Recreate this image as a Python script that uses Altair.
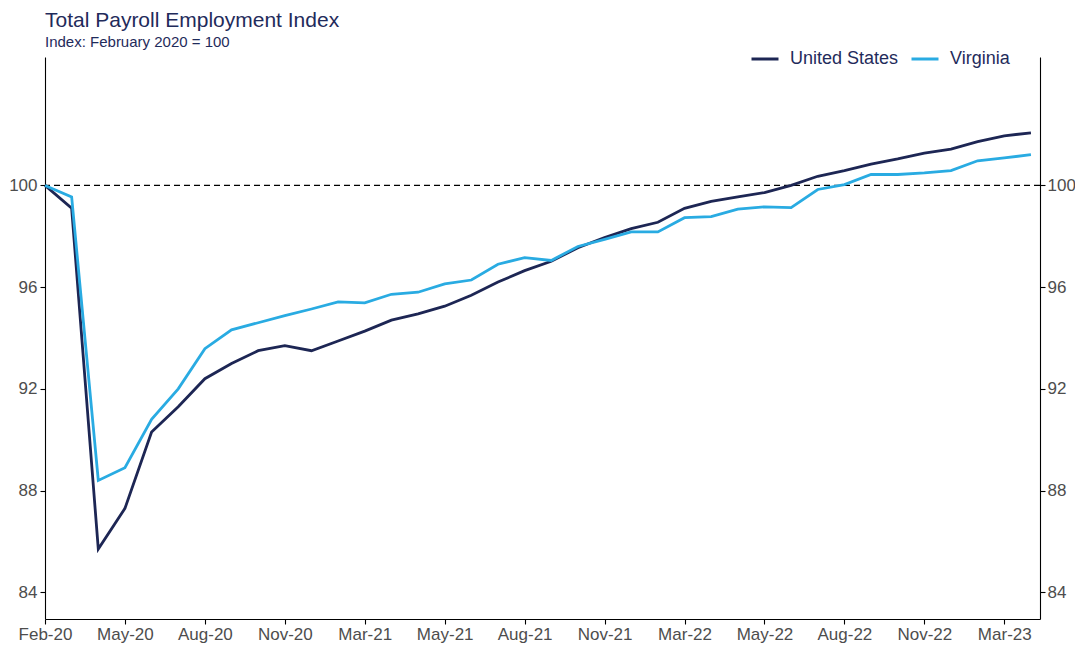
import altair as alt
import pandas as pd

months = ["Feb-20", "Mar-20", "Apr-20", "May-20", "Jun-20", "Jul-20", "Aug-20", "Sep-20",
          "Oct-20", "Nov-20", "Dec-20", "Jan-21", "Feb-21", "Mar-21", "Apr-21", "May-21",
          "Jun-21", "Jul-21", "Aug-21", "Sep-21", "Oct-21", "Nov-21", "Dec-21", "Jan-22",
          "Feb-22", "Mar-22", "Apr-22", "May-22", "Jun-22", "Jul-22", "Aug-22", "Sep-22",
          "Oct-22", "Nov-22", "Dec-22", "Jan-23", "Feb-23", "Mar-23"]

us = [100.0, 99.1, 85.7, 87.3, 90.3, 91.3, 92.4, 93.0,
      93.5, 93.7, 93.5, 93.88, 94.27, 94.7, 94.95, 95.25,
      95.68, 96.2, 96.65, 97.02, 97.55, 97.95, 98.3, 98.55,
      99.1, 99.37, 99.55, 99.72, 100.0, 100.36, 100.58, 100.84,
      101.04, 101.27, 101.43, 101.72, 101.95, 102.07]

va = [100.0, 99.55, 88.4, 88.9, 90.8, 92.0, 93.58, 94.32,
      94.6, 94.88, 95.14, 95.42, 95.38, 95.72, 95.8, 96.13,
      96.28, 96.9, 97.16, 97.05, 97.6, 97.88, 98.17, 98.17,
      98.73, 98.77, 99.07, 99.16, 99.13, 99.84, 100.03, 100.43,
      100.43, 100.49, 100.58, 100.97, 101.08, 101.21]

series = ["United States", "Virginia"]
colors = ["#1d2654", "#29abe2"]

tick_labels = ["Feb-20", "May-20", "Aug-20", "Nov-20", "Mar-21", "May-21", "Aug-21",
               "Nov-21", "Mar-22", "May-22", "Aug-22", "Nov-22", "Mar-23"]
tick_positions = [0, 3, 6, 9, 12, 15, 18, 21, 24, 27, 30, 33, 36]
y_ticks = [84, 88, 92, 96, 100]
reference = [100]

NAVY = "#1f2b5b"
LABEL = "#4d4d4d"
FONT = "Liberation Sans"

rows = []
for i, m in enumerate(months):
    rows.append({"idx": i, "month": m, "series": series[0], "value": us[i]})
    rows.append({"idx": i, "month": m, "series": series[1], "value": va[i]})
df = pd.DataFrame(rows)

label_expr = "[" + ",".join("'" + t + "'" for t in tick_labels) + "][round(datum.value / 3)]"

x_scale = alt.Scale(domain=[0, 37.34], nice=False, zero=False)
y_scale = alt.Scale(domain=[82.95, 105.05], nice=False, zero=False)

axis_common = dict(
    grid=False, title=None, domainColor="black", domainWidth=1.1,
    tickColor="black", tickWidth=1.1, tickSize=5,
    labelFont=FONT, labelFontSize=17, labelColor=LABEL,
    labelOverlap=False, labelFlush=False,
)

rule = alt.Chart(pd.DataFrame({"ref": reference})).mark_rule(
    color="black", strokeDash=[6, 4], strokeWidth=1.2
).encode(
    y=alt.Y("ref:Q", scale=y_scale,
            axis=alt.Axis(orient="right", values=y_ticks, labelPadding=2, **axis_common))
)

lines = alt.Chart(df).mark_line(strokeWidth=2.8).encode(
    x=alt.X("idx:Q", scale=x_scale,
            axis=alt.Axis(values=tick_positions, labelExpr=label_expr, labelPadding=2,
                          **axis_common)),
    y=alt.Y("value:Q", scale=y_scale,
            axis=alt.Axis(orient="left", values=y_ticks, labelPadding=3, **axis_common)),
    color=alt.Color("series:N", scale=alt.Scale(domain=series, range=colors),
                    legend=alt.Legend(
                        title=None, orient="none", legendX=705, legendY=-13,
                        direction="horizontal", symbolType="stroke",
                        symbolSize=729, symbolStrokeWidth=3,
                        labelFont=FONT, labelFontSize=18, labelColor=NAVY,
                        labelOffset=10, columnPadding=6, padding=0,
                    )),
    order="idx:Q",
)

chart = alt.layer(rule, lines).resolve_scale(y="independent").properties(
    width=995, height=562,
    title=alt.TitleParams(
        text="Total Payroll Employment Index",
        subtitle="Index: February 2020 = 100",
        anchor="start", frame="group",
        font=FONT, fontSize=21, fontWeight="normal", color=NAVY,
        subtitleFont=FONT, subtitleFontSize=15, subtitleColor=NAVY,
        subtitlePadding=4, offset=-6,
    ),
    padding={"left": 37, "top": 49, "right": 35, "bottom": 24},
    autosize=alt.AutoSizeParams(type="none"),
).configure_view(stroke=None)

chart.save("out.html", embed_options={"renderer": "svg", "actions": False})
